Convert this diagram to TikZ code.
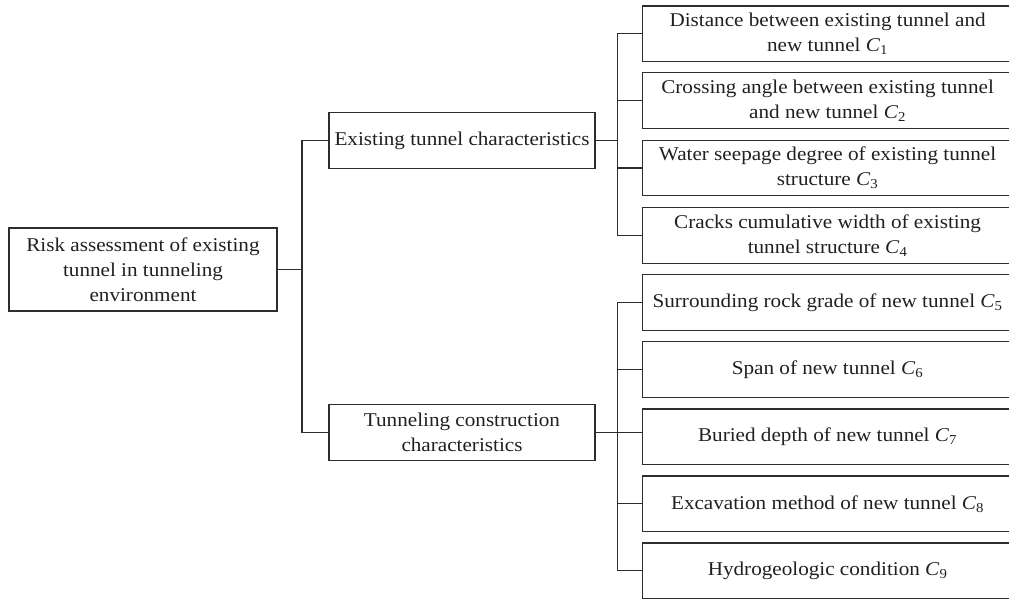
\documentclass[tikz,border=0pt]{standalone}
\usepackage{fontspec}
\setmainfont{Liberation Serif}[FakeStretch=1.085]
\definecolor{linec}{RGB}{45,45,45}
\definecolor{textc}{RGB}{35,31,32}
\newcommand\Cs[1]{\textit{C}\textsubscript{#1}}
\begin{document}
\begin{tikzpicture}[x=1pt,y=-1pt,
  box/.style={draw=linec, line width=1.2pt, align=center, inner sep=2pt,
    text=textc, font=\fontsize{19.5}{25}\selectfont, anchor=center},
  leaf/.style={box, minimum width=370.7pt, minimum height=55.6pt},
  mid/.style={box, minimum width=266pt, minimum height=55.8pt},
  conn/.style={draw=linec, line width=1.2pt}]
\clip (0,0) rectangle (1009,599);
% nodes
\node[box, minimum width=268pt, minimum height=83pt] (root) at (143,269.5)
  {Risk assessment of existing\\tunnel in tunneling\\environment};
\node[mid] (m1) at (462,140.7) {Existing tunnel characteristics};
\node[mid] (m2) at (462,432.5) {Tunneling construction\\characteristics};
\node[leaf] (c1) at (827.6,33.9) {Distance between existing tunnel and\\new tunnel \Cs{1}};
\node[leaf] (c2) at (827.6,100.7) {Crossing angle between existing tunnel\\and new tunnel \Cs{2}};
\node[leaf] (c3) at (827.6,168) {Water seepage degree of existing tunnel\\structure \Cs{3}};
\node[leaf] (c4) at (827.6,235.5) {Cracks cumulative width of existing\\tunnel structure \Cs{4}};
\node[leaf] (c5) at (827.6,302.5) {Surrounding rock grade of new tunnel \Cs{5}};
\node[leaf] (c6) at (827.6,369.4) {Span of new tunnel \Cs{6}};
\node[leaf] (c7) at (827.6,436.7) {Buried depth of new tunnel \Cs{7}};
\node[leaf] (c8) at (827.6,503.8) {Excavation method of new tunnel \Cs{8}};
\node[leaf] (c9) at (827.6,570.8) {Hydrogeologic condition \Cs{9}};
% junctions
\coordinate (j0) at (302,269.5);
\coordinate (j1) at (617.7,140.7);
\coordinate (j2) at (617.7,432.5);
% connectors
\draw[conn] (root.east) -- (j0);
\draw[conn] (m1.west) -- (j0 |- m1.west) -- (j0 |- m2.west) -- (m2.west);
\draw[conn] (m1.east) -- (j1);
\draw[conn] (c1.west) -- (j1 |- c1.west) -- (j1 |- c4.west) -- (c4.west);
\draw[conn] (j1 |- c2.west) -- (c2.west);
\draw[conn] (j1 |- c3.west) -- (c3.west);
\draw[conn] (m2.east) -- (m2.east -| c7.west);
\draw[conn] (c5.west) -- (j2 |- c5.west) -- (j2 |- c9.west) -- (c9.west);
\draw[conn] (j2 |- c6.west) -- (c6.west);
\draw[conn] (j2 |- c8.west) -- (c8.west);
\end{tikzpicture}
\end{document}
